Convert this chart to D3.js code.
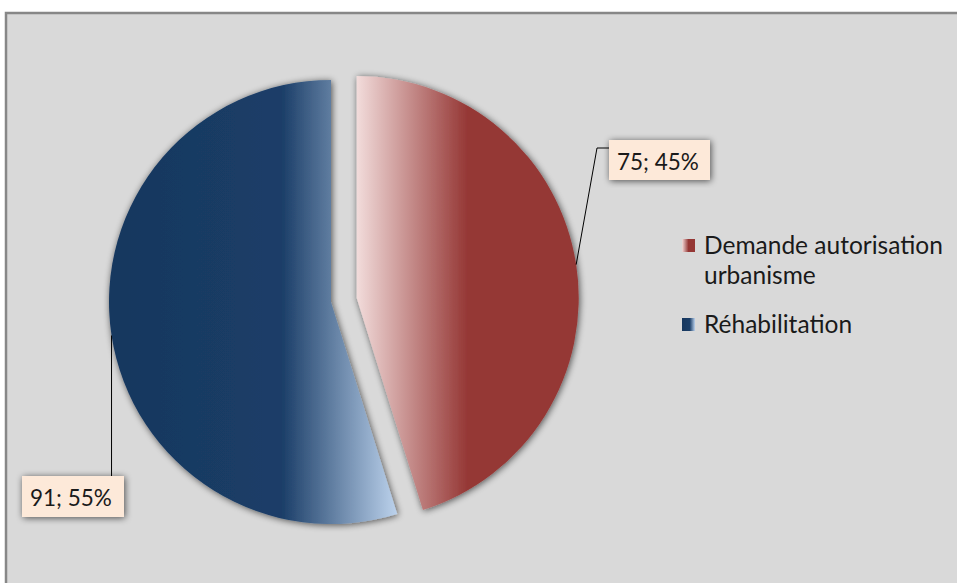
<!DOCTYPE html>
<meta charset="utf-8">
<head>
<style>
  body { margin: 0; background: #fff; }
  text { font-family: Lato, "Open Sans", sans-serif; fill: #1a1a1a; }
</style>
</head>
<body>
<script src="https://cdn.jsdelivr.net/npm/d3@7"></script>
<script>
// data
var categories = ["Demande autorisation urbanisme", "Réhabilitation"];
var values = [75, 91];
var legendLines = [["Demande autorisation", "urbanisme"], ["Réhabilitation"]];

var W = 957, H = 583;
var cx = 331, cy = 302, r = 222;
var explode = [26, 0];

var svg = d3.select("body").append("svg")
    .attr("width", W)
    .attr("height", H);

var defs = svg.append("defs");

// shadow filter
var f = defs.append("filter").attr("id", "shadow")
    .attr("x", "-20%").attr("y", "-20%").attr("width", "140%").attr("height", "140%");
f.append("feGaussianBlur").attr("in", "SourceAlpha").attr("stdDeviation", 3.5);
f.append("feOffset").attr("dx", 1).attr("dy", 1).attr("result", "b");
f.append("feComponentTransfer").append("feFuncA").attr("type", "linear").attr("slope", 0.65);
var m = f.append("feMerge");
m.append("feMergeNode");
m.append("feMergeNode").attr("in", "SourceGraphic");

// gradients
var grads = [
  [[0, "#f2dcdb"], [0.5, "#953735"], [1, "#953735"]],
  [[0, "#17375e"], [0.6, "#1b3e68"], [1, "#bcd2ec"]]
];
grads.forEach(function(stops, i) {
  var g = defs.append("linearGradient").attr("id", "g" + i)
      .attr("x1", 0).attr("x2", 1).attr("y1", 0).attr("y2", 0);
  stops.forEach(function(s) {
    g.append("stop").attr("offset", s[0]).attr("stop-color", s[1]);
  });
});

// chart area
svg.append("rect")
    .attr("x", 6).attr("y", 13)
    .attr("width", W + 20).attr("height", H + 20)
    .attr("fill", "#d9d9d9")
    .attr("stroke", "#878787")
    .attr("stroke-width", 2.5);

var pie = d3.pie().sort(null).value(function(d) { return d; });
var arcs = pie(values);
var total = d3.sum(values);
var arc = d3.arc().innerRadius(0).outerRadius(r);

function offset(d, i) {
  var a = (d.startAngle + d.endAngle) / 2;
  return [Math.sin(a) * explode[i], -Math.cos(a) * explode[i]];
}

var g = svg.append("g").attr("transform", "translate(" + cx + "," + cy + ")");

g.selectAll("path.slice")
  .data(arcs)
  .enter()
  .append("path")
    .attr("class", "slice")
    .attr("d", arc)
    .attr("fill", function(d, i) { return "url(#g" + i + ")"; })
    .attr("filter", "url(#shadow)")
    .attr("transform", function(d, i) {
      var o = offset(d, i);
      return "translate(" + o[0] + "," + o[1] + ")";
    });

// data labels
var labelBox = [
  {x: 278, y: -162, w: 101, h: 40, lead: function(p) { return [p, [266, -154], [278, -154]]; }},
  {x: -309, y: 174, w: 102, h: 41, lead: function(p) { return [p, [p[0], 174]]; }}
];

arcs.forEach(function(d, i) {
  var o = offset(d, i);
  var a = (d.startAngle + d.endAngle) / 2;
  var p = [o[0] + Math.sin(a) * r, o[1] - Math.cos(a) * r];
  var b = labelBox[i];
  g.append("path")
      .attr("d", d3.line()(b.lead(p)))
      .attr("fill", "none")
      .attr("stroke", "#000")
      .attr("stroke-width", 1);
  g.append("rect")
      .attr("x", b.x).attr("y", b.y)
      .attr("width", b.w).attr("height", b.h)
      .attr("fill", "#fde9d9")
      .attr("filter", "url(#shadow)");
  g.append("text")
      .attr("x", b.x + 8)
      .attr("y", b.y + 30)
      .style("font-size", "22.5px")
      .text(d.value + "; " + Math.round(d.value / total * 100) + "%");
});

// legend
var legendY = [254, 333];
var lg = svg.append("g");
legendLines.forEach(function(lines, i) {
  lg.append("rect")
      .attr("x", 682).attr("y", legendY[i] - 15)
      .attr("width", 13).attr("height", 13)
      .attr("fill", "url(#g" + i + ")");
  lines.forEach(function(t, j) {
    lg.append("text")
        .attr("x", 704)
        .attr("y", legendY[i] + j * 30)
        .style("font-size", "24.5px")
        .text(t);
  });
});
</script>
</body>
